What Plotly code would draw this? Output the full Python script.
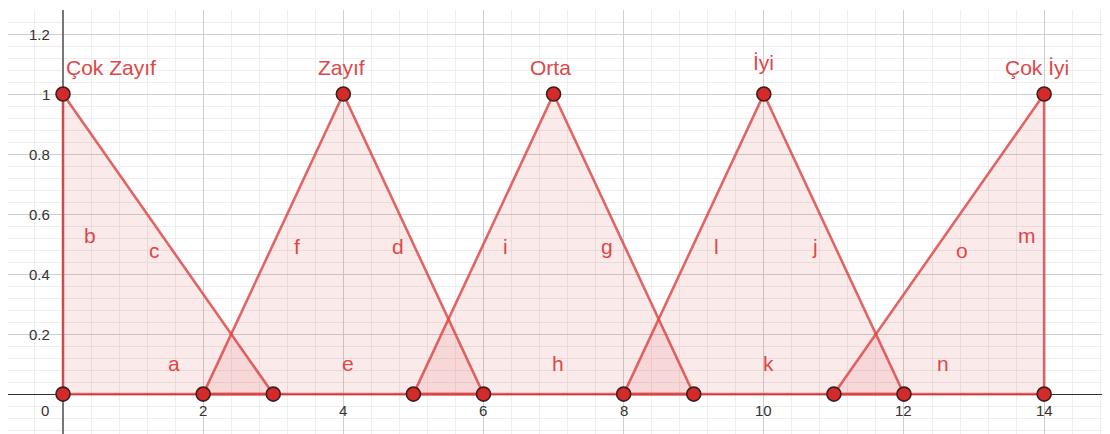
import plotly.graph_objects as go

# Fuzzy sets (triangles)
set_names = ["Çok Zayıf", "Zayıf", "Orta", "İyi", "Çok İyi"]
left_x = [0, 2, 5, 8, 11]
peak_x = [0, 4, 7, 10, 14]
right_x = [3, 6, 9, 12, 14]
peak_y = [1, 1, 1, 1, 1]
name_label_x = [0.69, 3.97, 6.95, 10.0, 13.9]
name_label_y = [1.09, 1.09, 1.09, 1.105, 1.09]

# Segment labels
seg_labels = ["b", "c", "a", "f", "d", "e", "i", "g", "h", "l", "j", "k", "o", "m", "n"]
seg_label_x = [0.39, 1.31, 1.58, 3.34, 4.78, 4.07, 6.31, 7.76, 7.06, 9.32, 10.73, 10.06, 12.83, 13.76, 12.56]
seg_label_y = [0.527, 0.48, 0.103, 0.493, 0.493, 0.103, 0.493, 0.493, 0.103, 0.493, 0.493, 0.103, 0.48, 0.527, 0.103]

# Axis tick labels
x_ticks = [2, 4, 6, 8, 10, 12, 14]
y_ticks = [0.2, 0.4, 0.6, 0.8, 1, 1.2]
y_tick_text = ["0.2", "0.4", "0.6", "0.8", "1", "1.2"]

LINE = "rgba(218,70,70,0.82)"
FILL = "rgba(220,60,60,0.11)"
PT = "#d42a2a"
TXT = "#dc4848"
FONT = "Liberation Sans, Arial, sans-serif"

fig = go.Figure()

for i in range(len(set_names)):
    xs = [left_x[i], peak_x[i], right_x[i], left_x[i]]
    ys = [0, peak_y[i], 0, 0]
    fig.add_trace(go.Scatter(x=xs, y=ys, mode="lines", fill="toself",
                             fillcolor=FILL, line=dict(color=LINE, width=2.6),
                             hoverinfo="skip", showlegend=False))

# Points
px, py = [], []
for i in range(len(set_names)):
    for (x, y) in [(left_x[i], 0), (peak_x[i], peak_y[i]), (right_x[i], 0)]:
        if (x, y) not in zip(px, py):
            px.append(x); py.append(y)
fig.add_trace(go.Scatter(x=px, y=py, mode="markers",
                         marker=dict(size=14, color=PT, line=dict(color="#3b2020", width=1.6)),
                         hoverinfo="skip", showlegend=False))

for i, n in enumerate(set_names):
    fig.add_annotation(x=name_label_x[i], y=name_label_y[i], text=n, showarrow=False,
                       font=dict(size=21, color=TXT, family=FONT), xanchor="center", yanchor="middle")

for i, s in enumerate(seg_labels):
    fig.add_annotation(x=seg_label_x[i], y=seg_label_y[i], text=s, showarrow=False,
                       font=dict(size=21, color=TXT, family=FONT), xanchor="center", yanchor="middle")

for xv in x_ticks:
    fig.add_annotation(x=xv, y=-0.055, text=str(xv), showarrow=False,
                       font=dict(size=15, color="#333", family=FONT), xanchor="center", yanchor="middle")
fig.add_annotation(x=-0.25, y=-0.055, text="0", showarrow=False,
                   font=dict(size=15, color="#333", family=FONT), xanchor="center", yanchor="middle")
for yv, yt in zip(y_ticks, y_tick_text):
    fig.add_annotation(x=-0.16, y=yv, text=yt, showarrow=False,
                       font=dict(size=15, color="#333", family=FONT), xanchor="right", yanchor="middle")

fig.update_layout(
    width=1102, height=426,
    margin=dict(l=0, r=0, t=2, b=0),
    paper_bgcolor="white", plot_bgcolor="white",
    xaxis=dict(range=[-0.785, 14.94], tick0=0, dtick=2, showticklabels=False,
               showgrid=True, gridcolor="#cfcfcf", gridwidth=1,
               zeroline=True, zerolinecolor="#777", zerolinewidth=1.5,
               minor=dict(tick0=0, dtick=0.4, showgrid=True, gridcolor="#eeeeee", gridwidth=1),
               fixedrange=True),
    yaxis=dict(range=[-0.133, 1.28], tick0=0, dtick=0.2, showticklabels=False,
               showgrid=True, gridcolor="#cfcfcf", gridwidth=1,
               zeroline=True, zerolinecolor="#333", zerolinewidth=1.3,
               minor=dict(tick0=0, dtick=0.04, showgrid=True, gridcolor="#eeeeee", gridwidth=1),
               fixedrange=True),
)

fig.write_html("out.html")
